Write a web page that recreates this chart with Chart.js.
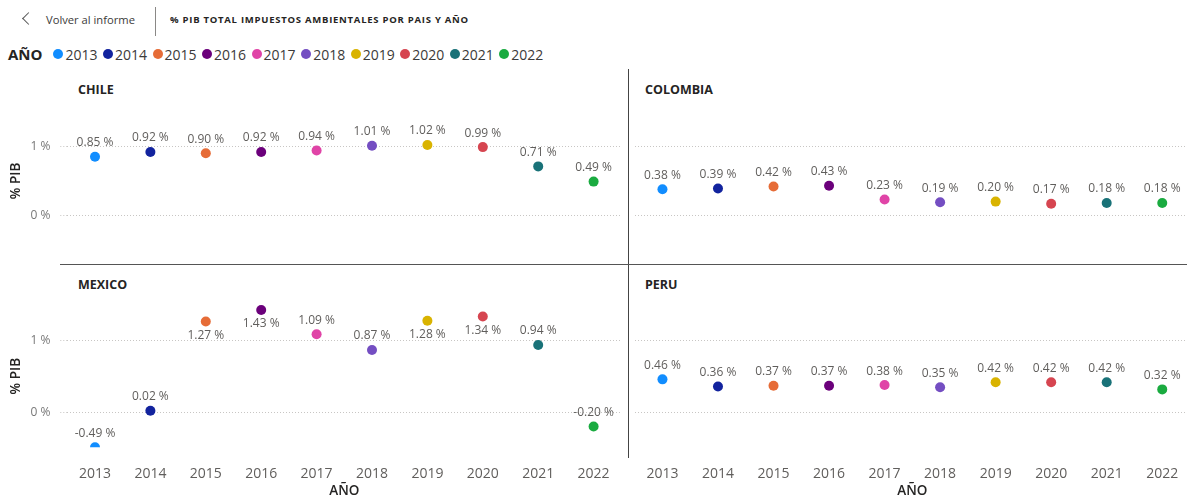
<!DOCTYPE html>
<html lang="es">
<head>
<meta charset="utf-8">
<title>% PIB total impuestos ambientales por país y año</title>
<script src="https://cdn.jsdelivr.net/npm/chart.js@4.4.1/dist/chart.umd.min.js"></script>
<style>
  html, body { margin: 0; padding: 0; background: #fff; overflow: hidden; }
  body { width: 1187px; height: 499px; position: relative; font-family: "Open Sans", sans-serif; color: #252423; }
  .abs { position: absolute; }
  canvas { position: absolute; }

  .back-icon { left: 24px; top: 14px; width: 8px; height: 8px; border-left: 1.5px solid #555; border-bottom: 1.5px solid #555; transform: rotate(45deg); }
  .back-text { left: 46px; top: 12px; font-size: 11.2px; color: #3b3a39; }
  .sep { left: 155px; top: 7px; width: 1px; height: 29px; background: #8a8886; }
  .title { left: 170px; top: 13px; font-size: 9.5px; font-weight: 700; letter-spacing: 0.75px; color: #252423; }

  .legend { left: 8px; top: 43px; display: flex; align-items: center; height: 22px; }
  .legend .lbl { font-size: 15px; font-weight: 700; margin-right: 11px; color: #252423; }
  .legend .item { display: flex; align-items: center; margin-right: 5.5px; font-size: 14px; color: #3b3a39; }
  .legend .dot { width: 10px; height: 10px; border-radius: 50%; margin-right: 2px; }

  .ptitle { font-size: 12.5px; font-weight: 700; color: #252423; }
  .vline { left: 628px; top: 69px; width: 1px; height: 389px; background: #444; }
  .hline { left: 60px; top: 264px; width: 1127px; height: 1px; background: #555; }
</style>
</head>
<body>
  <div class="abs back-icon"></div>
  <div class="abs back-text">Volver al informe</div>
  <div class="abs sep"></div>
  <div class="abs title">% PIB TOTAL IMPUESTOS AMBIENTALES POR PAIS Y AÑO</div>

  <div class="abs legend" id="legend"></div>

  <div class="abs ptitle" style="left:78px; top:81px;">CHILE</div>
  <div class="abs ptitle" style="left:645px; top:81px;">COLOMBIA</div>
  <div class="abs ptitle" style="left:78px; top:276px;">MEXICO</div>
  <div class="abs ptitle" style="left:645px; top:276px;">PERU</div>

  <canvas id="cChile" width="626" height="190" style="left:0; top:70px;"></canvas>
  <canvas id="cColombia" width="563" height="190" style="left:628px; top:70px;"></canvas>
  <canvas id="cMexico" width="626" height="204" style="left:0; top:295px;"></canvas>
  <canvas id="cPeru" width="563" height="204" style="left:628px; top:295px;"></canvas>

  <div class="abs vline"></div>
  <div class="abs hline"></div>

<script>
// años (categorías) y colores de la leyenda
const years = ['2013', '2014', '2015', '2016', '2017', '2018', '2019', '2020', '2021', '2022'];
const yearColors = ['#118DFF', '#12239E', '#E66C37', '#6B007B', '#E044A7', '#744EC2', '#D9B300', '#D64550', '#197278', '#1AAB40'];

// % PIB por país
const chile    = [0.85, 0.92, 0.90, 0.92, 0.94, 1.01, 1.02, 0.99, 0.71, 0.49];
const colombia = [0.38, 0.39, 0.42, 0.43, 0.23, 0.19, 0.20, 0.17, 0.18, 0.18];
const mexico   = [-0.49, 0.02, 1.27, 1.43, 1.09, 0.87, 1.28, 1.34, 0.94, -0.20];
const peru     = [0.46, 0.36, 0.37, 0.37, 0.38, 0.35, 0.42, 0.42, 0.42, 0.32];

const yTicks = [0, 1];

const FONT = '"Open Sans", sans-serif';

// leyenda
const legend = document.getElementById('legend');
legend.innerHTML = '<span class="lbl">AÑO</span>' + years.map((y, i) =>
  `<span class="item"><span class="dot" style="background:${yearColors[i]}"></span>${y}</span>`
).join('');

// etiquetas de datos (arriba del punto, o abajo si no caben)
const pointLabels = {
  id: 'pointLabels',
  afterDatasetsDraw(chart) {
    const { ctx, chartArea } = chart;
    const meta = chart.getDatasetMeta(0);
    const values = chart.data.datasets[0].data;
    ctx.save();
    ctx.font = '12px ' + FONT;
    ctx.fillStyle = '#605E5C';
    ctx.textAlign = 'center';
    ctx.textBaseline = 'middle';
    meta.data.forEach((pt, i) => {
      let y = pt.y - 14;
      if (y - 7 < chartArea.top) y = pt.y + 14;
      ctx.fillText(values[i].toFixed(2) + ' %', pt.x, y);
    });
    ctx.restore();
  }
};

// sin relleno automático de los ejes, el área queda fija
function noPad(s) {
  s.paddingTop = 0; s.paddingBottom = 0; s.paddingLeft = 0; s.paddingRight = 0;
}

function makeChart(id, values, o) {
  return new Chart(document.getElementById(id), {
    type: 'line',
    data: {
      labels: years,
      datasets: [{
        data: values,
        showLine: false,
        pointRadius: 5,
        pointHoverRadius: 5,
        pointBorderWidth: 0,
        pointBackgroundColor: yearColors,
        clip: 0
      }]
    },
    options: {
      responsive: false,
      animation: false,
      events: [],
      layout: { autoPadding: false, padding: { top: o.padTop, bottom: o.padBottom, left: 0, right: o.padRight } },
      plugins: { legend: { display: false }, tooltip: { enabled: false } },
      scales: {
        x: {
          display: o.showX,
          offset: true,
          grid: { display: false },
          border: { display: false },
          ticks: { color: '#605E5C', font: { family: FONT, size: 14 }, padding: 10, maxRotation: 0, autoSkip: false },
          title: { display: true, text: 'AÑO', color: '#252423', font: { family: FONT, size: 13.5, weight: 600 }, padding: 0 },
          afterFit: s => { s.height = o.xHeight; noPad(s); }
        },
        y: {
          min: o.min,
          max: o.max,
          afterBuildTicks: s => { s.ticks = yTicks.map(v => ({ value: v })); },
          grid: { color: '#C8C6C4', drawTicks: o.showY, tickLength: 7, tickColor: '#C8C6C4', tickBorderDash: [1, 2] },
          border: { display: false, dash: [1, 2] },
          ticks: { display: o.showY, padding: 10, color: '#777', font: { family: FONT, size: 12 }, callback: v => v + ' %' },
          title: { display: o.showY, text: '% PIB', color: '#252423', font: { family: FONT, size: 13.5, weight: 600 }, padding: { top: 8, bottom: 0 } },
          afterFit: s => { s.width = o.yWidth; noPad(s); }
        }
      }
    },
    plugins: [pointLabels]
  });
}

// fila superior: escala compartida
const topRow = { min: -0.6, max: 1.6, padTop: 35, padBottom: 3.2, showX: false, xHeight: 0 };
// fila inferior: escala compartida
const bottomRow = { min: -0.49, max: 1.5, padTop: 10, padBottom: 0, showX: true, xHeight: 51.7 };

const leftCol = { showY: true, yWidth: 67.3, padRight: 4.7 };
const rightCol = { showY: false, yWidth: 6.7, padRight: 1 };

makeChart('cChile', chile, { ...topRow, ...leftCol });
makeChart('cColombia', colombia, { ...topRow, ...rightCol });
makeChart('cMexico', mexico, { ...bottomRow, ...leftCol });
makeChart('cPeru', peru, { ...bottomRow, ...rightCol });
</script>
</body>
</html>
